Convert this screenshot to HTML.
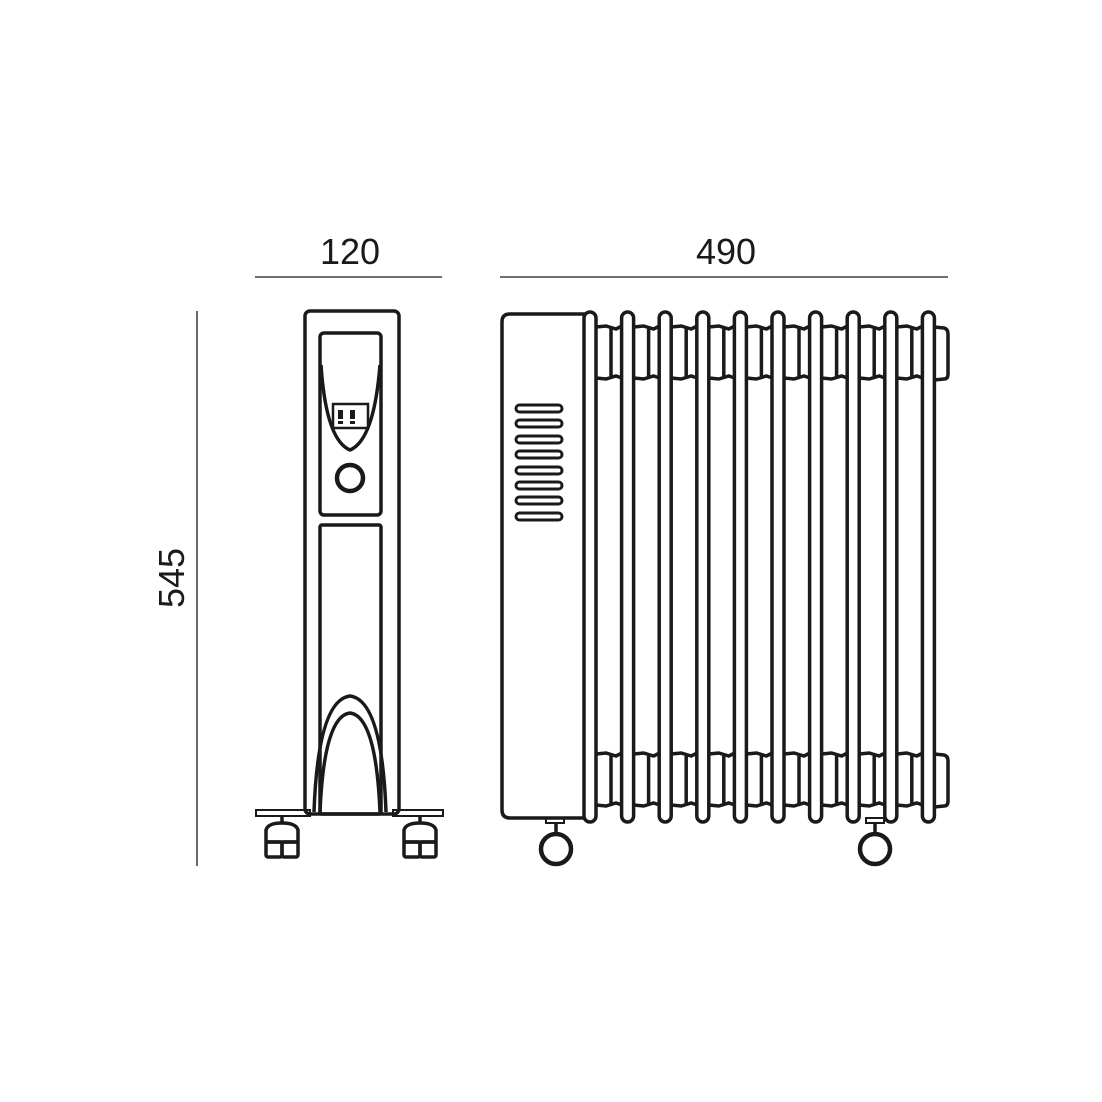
<!DOCTYPE html>
<html><head><style>
html,body{margin:0;padding:0;background:#fff;}
svg{display:block;}
text{font-family:"Liberation Sans",sans-serif;font-size:36px;fill:#1a1a1a;}
</style></head><body>
<svg width="1102" height="1102" viewBox="0 0 1102 1102" xmlns="http://www.w3.org/2000/svg">
<g stroke="#1a1a1a" fill="none" stroke-width="1.3">
<line x1="255" y1="277" x2="442" y2="277"/>
<line x1="500" y1="277" x2="948" y2="277"/>
<line x1="197" y1="311" x2="197" y2="866"/>
</g>
<text x="350" y="264" text-anchor="middle">120</text>
<text x="726" y="264" text-anchor="middle">490</text>
<text transform="translate(184,578) rotate(-90)" text-anchor="middle">545</text>

<g stroke="#1a1a1a" fill="none" stroke-width="3.5">
<rect x="305" y="311" width="94" height="503" rx="5"/>
<rect x="320" y="333" width="61" height="182" rx="4"/>
<path d="M321 365 Q326 440 350 450 Q374 440 380 365"/>
<rect x="333" y="404" width="35" height="24" stroke-width="2.5"/>
<circle cx="350" cy="478" r="13" stroke-width="4.5"/>
<rect x="320" y="525" width="61" height="289" rx="2"/>
<path d="M314 812 Q318 700 350 696 Q382 700 386 812"/>
<path d="M320 812 Q324 716 350 713 Q376 716 380 812"/>
<rect x="256" y="810" width="54" height="6" stroke-width="2"/>
<rect x="393" y="810" width="50" height="6" stroke-width="2"/>
<line x1="282" y1="816" x2="282" y2="824"/><line x1="420" y1="816" x2="420" y2="824"/>
<path d="M266 842 L266 830 Q268 823 282 823 Q296 823 298 830 L298 842 Z"/>
<rect x="266" y="842" width="16" height="15" rx="2"/><rect x="282" y="842" width="16" height="15" rx="2"/>
<path d="M404 842 L404 830 Q406 823 420 823 Q434 823 436 830 L436 842 Z"/>
<rect x="404" y="842" width="16" height="15" rx="2"/><rect x="420" y="842" width="16" height="15" rx="2"/>
</g>
<g fill="#1a1a1a">
<rect x="338" y="410" width="5" height="9"/><rect x="350" y="410" width="5" height="9"/>
<rect x="338" y="421" width="5" height="3"/><rect x="350" y="421" width="5" height="3"/>
</g>

<g stroke="#1a1a1a" fill="none" stroke-width="3.5">
<path d="M588 314 L510 314 Q502 314 502 322 L502 810 Q502 818 510 818 L588 818"/>
<g stroke-width="3">
<rect x="516" y="405" width="46" height="7" rx="3.5"/>
<rect x="516" y="420" width="46" height="7" rx="3.5"/>
<rect x="516" y="436" width="46" height="7" rx="3.5"/>
<rect x="516" y="451" width="46" height="7" rx="3.5"/>
<rect x="516" y="467" width="46" height="7" rx="3.5"/>
<rect x="516" y="482" width="46" height="7" rx="3.5"/>
<rect x="516" y="497" width="46" height="7" rx="3.5"/>
<rect x="516" y="513" width="46" height="7" rx="3.5"/>
</g>
<g id="lobes">
<path d="M596 327 L606 326 L616 329 L622 326 M596 378 L606 379 L616 376 L622 378 M611 329 L611 376"/>
</g>
<use href="#lobes" x="37.6"/><use href="#lobes" x="75.2"/><use href="#lobes" x="112.8"/><use href="#lobes" x="150.4"/>
<use href="#lobes" x="188"/><use href="#lobes" x="225.6"/><use href="#lobes" x="263.2"/><use href="#lobes" x="300.8"/>
<use href="#lobes" y="427"/><use href="#lobes" x="37.6" y="427"/><use href="#lobes" x="75.2" y="427"/><use href="#lobes" x="112.8" y="427"/><use href="#lobes" x="150.4" y="427"/>
<use href="#lobes" x="188" y="427"/><use href="#lobes" x="225.6" y="427"/><use href="#lobes" x="263.2" y="427"/><use href="#lobes" x="300.8" y="427"/>
<path d="M934 327 L944 328 Q948 329 948 334 L948 374 Q948 379 944 379 L934 380"/>
<path d="M934 754 L944 755 Q948 756 948 761 L948 801 Q948 806 944 806 L934 807"/>
<g id="fin"><rect x="584" y="312" width="12" height="510" rx="6" fill="#fff"/></g>
<use href="#fin" x="37.6"/><use href="#fin" x="75.2"/><use href="#fin" x="112.8"/><use href="#fin" x="150.4"/>
<use href="#fin" x="188"/><use href="#fin" x="225.6"/><use href="#fin" x="263.2"/><use href="#fin" x="300.8"/><use href="#fin" x="338.4"/>
<rect x="546" y="818" width="18" height="5" stroke-width="2"/>
<line x1="556" y1="823" x2="556" y2="834"/>
<circle cx="556" cy="849" r="15" stroke-width="4.5"/>
<rect x="866" y="818" width="18" height="5" stroke-width="2"/>
<line x1="875" y1="823" x2="875" y2="834"/>
<circle cx="875" cy="849" r="15" stroke-width="4.5"/>
</g>
</svg>
</body></html>
